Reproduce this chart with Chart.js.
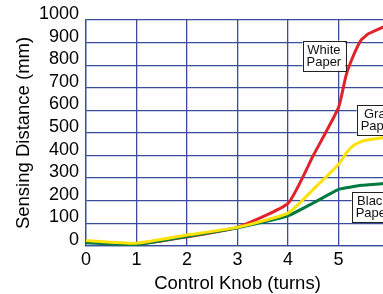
<!DOCTYPE html>
<html>
<head>
<meta charset="utf-8">
<script src="https://cdn.jsdelivr.net/npm/chart.js@4.4.1/dist/chart.umd.min.js"></script>
<style>
  html, body { margin: 0; padding: 0; background: #fff; overflow: hidden; }
  #wrap { width: 383px; height: 294px; overflow: hidden; }
</style>
</head>
<body>
<div id="wrap"><canvas id="knobChart" width="420" height="294"></canvas></div>
<script>
// knob turns where the curves were read
const turns = [0, 1, 2, 3, 4, 4.5, 5, 5.15, 5.3, 5.45, 5.6, 6];
// sensing distance (mm) per paper colour
const whitePaper = [18, 8, 40, 82, 188, 400, 612, 755, 845, 912, 940, 980];
const grayPaper  = [24, 12, 48, 82, 145, 250, 360, 410, 445, 462, 470, 482];
const blackPaper = [14, 6, 42, 80, 133, 190, 250, 257, 263, 268, 271, 278];

const xTicks = [0, 1, 2, 3, 4, 5, 6];
const yTicks = [0, 100, 200, 300, 400, 500, 600, 700, 800, 900, 1000];

const FONT = 'Liberation Sans, Arial, sans-serif';
const GRID = '#3a4c9c';

// callout boxes, placed in data units (x in turns, y in mm)
const callouts = [
  { lines: ['White', 'Paper'], x: 4.71, y: 842, anchor: 'center' },
  { lines: ['Gray', 'Paper'], x: 5.36, y: 557, anchor: 'left' },
  { lines: ['Black', 'Paper'], x: 5.26, y: 173, anchor: 'left' }
];

function toPoints(values) {
  return turns.map((t, i) => ({ x: t, y: values[i] }));
}

const calloutPlugin = {
  id: 'callouts',
  afterDatasetsDraw(chart) {
    const ctx = chart.ctx;
    const xs = chart.scales.x;
    const ys = chart.scales.y;
    ctx.save();
    ctx.font = '13px ' + FONT;
    callouts.forEach(c => {
      const w = Math.max(...c.lines.map(l => ctx.measureText(l).width)) + 8;
      const h = 30;
      const px = xs.getPixelForValue(c.x);
      const py = ys.getPixelForValue(c.y);
      const left = c.anchor === 'center' ? px - w / 2 : px;
      const top = py - h / 2;
      ctx.fillStyle = '#fff';
      ctx.fillRect(left, top, w, h);
      ctx.strokeStyle = '#222';
      ctx.lineWidth = 1;
      ctx.strokeRect(Math.round(left) + 0.5, Math.round(top) + 0.5, Math.round(w), Math.round(h));
      ctx.fillStyle = '#111';
      ctx.textAlign = 'center';
      ctx.textBaseline = 'middle';
      ctx.fillText(c.lines[0], left + w / 2, top + 9.5);
      ctx.fillText(c.lines[1], left + w / 2, top + 21.5);
    });
    ctx.restore();
  }
};

const ctx = document.getElementById('knobChart').getContext('2d');
new Chart(ctx, {
  type: 'line',
  data: {
    datasets: [
      { label: 'White Paper', data: toPoints(whitePaper), borderColor: '#e0232b', order: 2 },
      { label: 'Gray Paper', data: toPoints(grayPaper), borderColor: '#ffe10a', order: 0 },
      { label: 'Black Paper', data: toPoints(blackPaper), borderColor: '#007a3e', order: 1 }
    ].map(d => Object.assign(d, {
      borderWidth: 3,
      pointRadius: 0,
      fill: false,
      tension: 0.15
    }))
  },
  options: {
    responsive: false,
    animation: false,
    layout: { padding: { left: 13, right: 31, top: 20, bottom: 0 } },
    plugins: {
      legend: { display: false },
      tooltip: { enabled: false }
    },
    scales: {
      x: {
        type: 'linear',
        min: 0,
        max: 6,
        afterBuildTicks: axis => { axis.ticks = xTicks.map(v => ({ value: v })); },
        grid: { color: GRID, lineWidth: 1.3, drawTicks: false },
        border: { color: GRID, width: 1.3 },
        ticks: {
          color: '#000', font: { family: FONT, size: 18 }, padding: 3,
          autoSkip: false, maxRotation: 0, callback: v => String(v)
        },
        title: {
          display: true,
          text: 'Control Knob (turns)',
          color: '#000',
          font: { family: FONT, size: 18.5, lineHeight: 1 },
          padding: { top: 1, bottom: 1 }
        }
      },
      y: {
        min: 0,
        max: 1000,
        afterBuildTicks: axis => { axis.ticks = yTicks.map(v => ({ value: v })); },
        afterFit: axis => { axis.width = 73; },
        grid: { color: GRID, lineWidth: 1.3, drawTicks: false },
        border: { color: GRID, width: 1.3 },
        ticks: {
          color: '#000', font: { family: FONT, size: 18 }, padding: 7, labelOffset: -6,
          autoSkip: false, callback: v => String(v)
        },
        title: {
          display: true,
          text: 'Sensing Distance (mm)',
          color: '#000',
          font: { family: FONT, size: 18.5 },
          padding: { top: 0, bottom: 0 }
        }
      }
    }
  },
  plugins: [calloutPlugin]
});
</script>
</body>
</html>
